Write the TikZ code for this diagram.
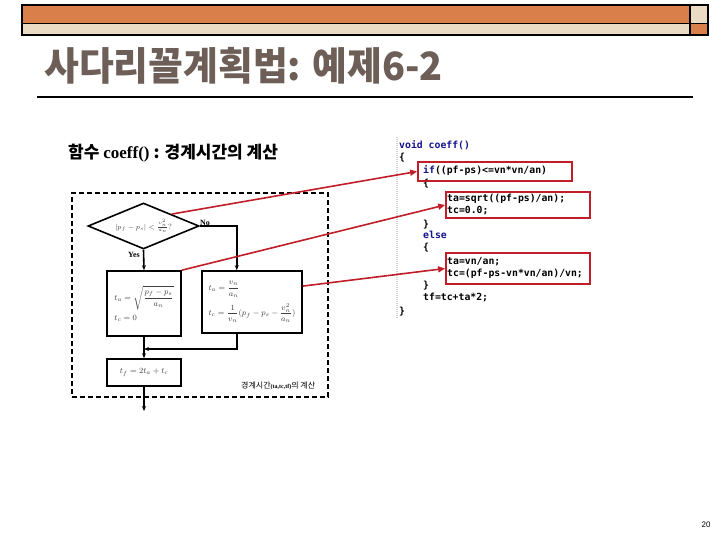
\documentclass[tikz,border=0pt]{standalone}
\usepackage{fontspec}
\usetikzlibrary{shapes.geometric,calc,arrows.meta}
\newfontfamily\krfont{Noto Sans CJK KR}
\newfontfamily\krtitle[FakeStretch=0.97]{Noto Sans CJK KR}
\newfontfamily\codefont{DejaVu Sans Mono}
\newfontfamily\tnr{Liberation Serif}
\newfontfamily\arialfont{Liberation Sans}
\definecolor{hdrorange}{RGB}{217,128,74}
\definecolor{hdrbeige}{RGB}{234,219,196}
\definecolor{titlegray}{RGB}{110,94,88}
\definecolor{codeblue}{RGB}{20,20,140}
\definecolor{hired}{RGB}{192,30,40}
\begin{document}
\begin{tikzpicture}[x=1pt,y=-1pt,
  fbox/.style={draw, line width=1.6, inner sep=2, align=left, text=black!75,
    font=\fontsize{8.5}{10}\selectfont},
  flow/.style={draw, line width=1.6, -{Stealth[length=5pt,width=4pt]}},
  redarrow/.style={draw=hired, line width=1.6, -{Triangle[length=7pt,width=6pt]}},
  redbox/.style={draw=hired, line width=1.8, inner sep=0},
  code/.style={anchor=west, inner sep=0, text height=7pt, text depth=2pt,
    font=\codefont\bfseries\fontsize{9.8}{11}\selectfont},
  yn/.style={inner sep=0, font=\tnr\bfseries\fontsize{8}{9}\selectfont}]
\useasboundingbox (0,0) rectangle (720,540);
\fill[white] (0,0) rectangle (720,540);
% header bars
\fill[hdrorange] (22,5) rectangle (690,23.5);
\fill[hdrbeige] (22,23.5) rectangle (690,35);
\fill[hdrbeige] (690,5) rectangle (708,23.5);
\fill[hdrorange] (690,23.5) rectangle (708,35);
\draw[line width=1.8] (22,5) rectangle (708,35);
\draw[line width=1.8] (22,23.5) -- (708,23.5) (690,5) -- (690,35);
% title
\node[anchor=base west, text=titlegray, inner sep=0,
  font=\krtitle\bfseries\fontsize{39}{42}\selectfont] (title) at (44,81) {사다리꼴계획법: 예제6-2};
\draw[line width=1.5] (37,97) -- (693,97);
% subtitle
\node[anchor=west, inner sep=0, font=\krfont\bfseries\fontsize{17}{20}\selectfont]
  (sub) at (68,153) {함수 {\tnr\bfseries coeff()} : 경계시간의 계산};
% dashed frame
\node[draw, line width=1.6, dash pattern=on 5pt off 3pt, minimum width=256,
  minimum height=204, inner sep=0] (frame) at (200,295) {};
% flowchart
\node[diamond, draw, line width=1.6, aspect=2.41, minimum width=111,
  minimum height=46, inner sep=0, text=black!75, font=\fontsize{7.5}{8}\selectfont]
  (dia) at (143.5,226) {$|p_f-p_s|<\frac{v_n^2}{a_n}$?};
\node[fbox, minimum width=74, minimum height=65] (b1) at (144,303.5)
  {$t_a=\sqrt{\displaystyle\frac{p_f-p_s}{a_n}}$\\[4pt] $t_c=0$};
\node[fbox, minimum width=100, minimum height=62] (b2) at (252,302)
  {$t_a=\displaystyle\frac{v_n}{a_n}$\\[5pt] $t_c=\displaystyle\frac{1}{v_n}(p_f-p_s-\frac{v_n^2}{a_n})$};
\node[fbox, minimum width=74, minimum height=27] (b3) at (144,372.5) {$t_f=2t_a+t_c$};
\coordinate (b2in) at ($(b2.north west)!0.35!(b2.north east)$);
\coordinate (b2out) at ($(b2.south west)!0.35!(b2.south east)$);
\coordinate (join) at (144,349);
\coordinate (exit) at (144,411);
\draw[flow] (dia.south) -- (b1.north);
\draw[flow] (dia.east) -| (b2in);
\draw[flow] (b2out) |- (join);
\draw[flow] (b1.south) -- (b3.north);
\draw[flow] (b3.south) -- (exit);
\node[yn, anchor=south west] (no) at (200,226) {No};
\node[yn, anchor=east] (yes) at (140,255) {Yes};
\node[anchor=base west, inner sep=0] (lbl) at (241,388)
  {{\krfont\fontsize{8}{9}\selectfont 경계시간}{\tnr\bfseries\fontsize{6}{7}\selectfont(ta,tc,tf)}{\krfont\fontsize{8}{9}\selectfont 의 계산}};
% code
\draw[gray!35, line width=2, dash pattern=on 1pt off 1pt] (397,137) -- (397,318);
\node[code, text=codeblue] (c1) at (399,146) {void coeff()};
\node[code] (c2) at (399,158) {\{};
\node[code] (c3) at (423,171) {\textcolor{codeblue}{if}((pf-ps)<=vn*vn/an)};
\node[code] (c4) at (423,184) {\{};
\node[code] (c5) at (447,199) {ta=sqrt((pf-ps)/an);};
\node[code] (c6) at (447,211) {tc=0.0;};
\node[code] (c7) at (423,225) {\}};
\node[code, text=codeblue] (c8) at (423,236) {else};
\node[code] (c9) at (423,248) {\{};
\node[code] (c10) at (447,262) {ta=vn/an;};
\node[code] (c11) at (447,274) {tc=(pf-ps-vn*vn/an)/vn;};
\node[code] (c12) at (423,286) {\}};
\node[code] (c13) at (423,298) {tf=tc+ta*2;};
\node[code] (c14) at (399,312) {\}};
\node[redbox, minimum width=154, minimum height=19] (rA) at (495,171.5) {};
\node[redbox, minimum width=144, minimum height=26] (rB) at (518,205) {};
\node[redbox, minimum width=144, minimum height=31] (rC) at (518,268.5) {};
\coordinate (b2r) at ($(b2.north east)!0.25!(b2.south east)$);
\draw[redarrow] (dia.north east) -- (rA.west);
\draw[redarrow] (b1.north east) -- (rB.west);
\draw[redarrow] (b2r) -- (rC.west);
% page number
\node[inner sep=0, font=\arialfont\fontsize{8}{9}\selectfont] (pg) at (706,525) {20};
\end{tikzpicture}
\end{document}
